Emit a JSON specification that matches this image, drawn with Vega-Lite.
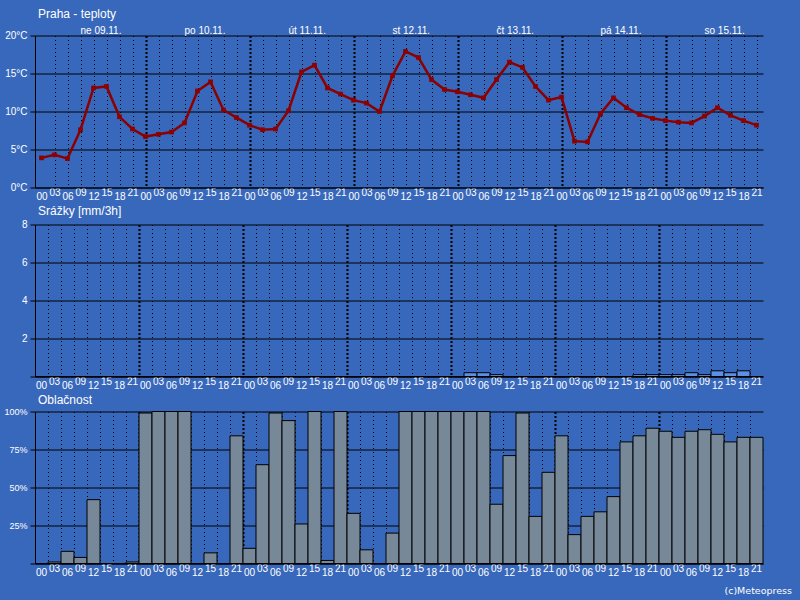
{
  "$schema": "https://vega.github.io/schema/vega-lite/v6.json",
  "background": "#3868bb",
  "padding": {"left": 3, "top": 7.5, "right": 8, "bottom": 5},
  "spacing": 3,
  "config": {
    "font": "Liberation Sans",
    "view": {"stroke": null},
    "axis": {"labelColor": "white", "labelFont": "Liberation Sans", "labelFontSize": 10, "domainColor": "black", "tickColor": "black", "gridColor": "black", "gridOpacity": 1, "title": null},
    "title": {"color": "white", "fontSize": 12, "fontWeight": "normal", "anchor": "start", "font": "Liberation Sans", "dx": 3, "frame": "group"}
  },
  "datasets": {
    "wx": [
      {"t": 0, "temp": 3.9, "precip": 0, "cloud": 0},
      {"t": 1, "temp": 4.3, "precip": 0, "cloud": 1},
      {"t": 2, "temp": 3.8, "precip": 0, "cloud": 8},
      {"t": 3, "temp": 7.6, "precip": 0, "cloud": 4},
      {"t": 4, "temp": 13.1, "precip": 0, "cloud": 42},
      {"t": 5, "temp": 13.3, "precip": 0, "cloud": 0},
      {"t": 6, "temp": 9.3, "precip": 0, "cloud": 0},
      {"t": 7, "temp": 7.7, "precip": 0, "cloud": 1},
      {"t": 8, "temp": 6.7, "precip": 0, "cloud": 99},
      {"t": 9, "temp": 7.0, "precip": 0, "cloud": 100},
      {"t": 10, "temp": 7.3, "precip": 0, "cloud": 100},
      {"t": 11, "temp": 8.5, "precip": 0, "cloud": 100},
      {"t": 12, "temp": 12.7, "precip": 0, "cloud": 0},
      {"t": 13, "temp": 13.9, "precip": 0, "cloud": 7},
      {"t": 14, "temp": 10.2, "precip": 0, "cloud": 0},
      {"t": 15, "temp": 9.2, "precip": 0, "cloud": 84},
      {"t": 16, "temp": 8.2, "precip": 0, "cloud": 10},
      {"t": 17, "temp": 7.6, "precip": 0, "cloud": 65},
      {"t": 18, "temp": 7.7, "precip": 0, "cloud": 99},
      {"t": 19, "temp": 10.1, "precip": 0, "cloud": 94},
      {"t": 20, "temp": 15.2, "precip": 0, "cloud": 26},
      {"t": 21, "temp": 16.1, "precip": 0, "cloud": 100},
      {"t": 22, "temp": 13.1, "precip": 0, "cloud": 2},
      {"t": 23, "temp": 12.3, "precip": 0, "cloud": 100},
      {"t": 24, "temp": 11.5, "precip": 0, "cloud": 33},
      {"t": 25, "temp": 11.1, "precip": 0, "cloud": 9},
      {"t": 26, "temp": 10.0, "precip": 0, "cloud": 0},
      {"t": 27, "temp": 14.7, "precip": 0, "cloud": 20},
      {"t": 28, "temp": 17.9, "precip": 0, "cloud": 100},
      {"t": 29, "temp": 17.1, "precip": 0, "cloud": 100},
      {"t": 30, "temp": 14.2, "precip": 0, "cloud": 100},
      {"t": 31, "temp": 12.9, "precip": 0, "cloud": 100},
      {"t": 32, "temp": 12.6, "precip": 0, "cloud": 100},
      {"t": 33, "temp": 12.2, "precip": 0.2, "cloud": 100},
      {"t": 34, "temp": 11.8, "precip": 0.2, "cloud": 100},
      {"t": 35, "temp": 14.2, "precip": 0.1, "cloud": 39},
      {"t": 36, "temp": 16.5, "precip": 0, "cloud": 71},
      {"t": 37, "temp": 15.8, "precip": 0, "cloud": 99},
      {"t": 38, "temp": 13.3, "precip": 0, "cloud": 31},
      {"t": 39, "temp": 11.5, "precip": 0, "cloud": 60},
      {"t": 40, "temp": 11.9, "precip": 0, "cloud": 84},
      {"t": 41, "temp": 6.1, "precip": 0, "cloud": 19},
      {"t": 42, "temp": 6.0, "precip": 0, "cloud": 31},
      {"t": 43, "temp": 9.7, "precip": 0, "cloud": 34},
      {"t": 44, "temp": 11.8, "precip": 0, "cloud": 44},
      {"t": 45, "temp": 10.5, "precip": 0, "cloud": 80},
      {"t": 46, "temp": 9.6, "precip": 0.1, "cloud": 84},
      {"t": 47, "temp": 9.1, "precip": 0.1, "cloud": 89},
      {"t": 48, "temp": 8.8, "precip": 0.1, "cloud": 87},
      {"t": 49, "temp": 8.6, "precip": 0.1, "cloud": 83},
      {"t": 50, "temp": 8.5, "precip": 0.2, "cloud": 87},
      {"t": 51, "temp": 9.4, "precip": 0.1, "cloud": 88},
      {"t": 52, "temp": 10.5, "precip": 0.3, "cloud": 85},
      {"t": 53, "temp": 9.5, "precip": 0.2, "cloud": 80},
      {"t": 54, "temp": 8.8, "precip": 0.3, "cloud": 83},
      {"t": 55, "temp": 8.2, "precip": 0, "cloud": 83}
    ],
    "days": [
      {"t": 3, "day": "ne 09.11."},
      {"t": 11, "day": "po 10.11."},
      {"t": 19, "day": "út 11.11."},
      {"t": 27, "day": "st 12.11."},
      {"t": 35, "day": "čt 13.11."},
      {"t": 43, "day": "pá 14.11."},
      {"t": 51, "day": "so 15.11."}
    ]
  },
  "title": {"text": "(c)Meteopress", "orient": "bottom", "anchor": "end", "fontSize": 9.5, "dx": 29, "offset": 9, "font": "DejaVu Sans", "frame": "group"},
  "vconcat": [
    {
      "width": 728,
      "height": 152,
      "title": {"text": "Praha - teploty", "offset": 4.5},
      "layer": [
        {
          "data": {"name": "wx"},
          "mark": {"type": "line", "color": "#8b0000", "strokeWidth": 2.5, "point": {"shape": "square", "size": 22, "filled": true, "color": "#8b0000"}},
          "encoding": {
            "x": {"field": "t", "type": "ordinal", "bandPosition": 0,
              "scale": {"paddingInner": 0, "paddingOuter": 0},
              "axis": {"bandPosition": 0, "grid": true, "ticks": false, "labelAngle": 0, "labelAlign": "center", "labelOverlap": false, "labelFlush": false,
                "labelExpr": "((datum.value % 8) * 3 < 10 ? '0' : '') + ((datum.value % 8) * 3)",
                "labelPadding": {"condition": {"test": "datum.value % 2 == 1", "value": 0}, "value": 3.5},
                "gridDash": {"condition": {"test": "datum.value % 8 == 0", "value": [2, 2]}, "value": [1, 3]},
                "gridWidth": {"condition": {"test": "datum.value % 8 == 0", "value": 2}, "value": 1},
                "gridOpacity": {"condition": {"test": "datum.value == 0", "value": 0}, "value": 1}}},
            "y": {"field": "temp", "type": "quantitative", "scale": {"domain": [0, 20], "nice": false},
              "axis": {"values": [0, 5, 10, 15, 20], "labelOverlap": false, "labelExpr": "datum.value + '°C'", "grid": true, "tickSize": 5, "labelPadding": 3}}
          }
        },
        {
          "data": {"name": "days"},
          "mark": {"type": "text", "align": "left", "baseline": "alphabetic", "dy": -2, "color": "white", "fontSize": 10},
          "encoding": {
            "x": {"field": "t", "type": "ordinal", "bandPosition": 0,
              "axis": {"bandPosition": 0, "grid": true, "ticks": false, "labelAngle": 0, "labelAlign": "center", "labelOverlap": false, "labelFlush": false,
                "labelExpr": "((datum.value % 8) * 3 < 10 ? '0' : '') + ((datum.value % 8) * 3)",
                "labelPadding": {"condition": {"test": "datum.value % 2 == 1", "value": 0}, "value": 3.5},
                "gridDash": {"condition": {"test": "datum.value % 8 == 0", "value": [2, 2]}, "value": [1, 3]},
                "gridWidth": {"condition": {"test": "datum.value % 8 == 0", "value": 2}, "value": 1},
                "gridOpacity": {"condition": {"test": "datum.value == 0", "value": 0}, "value": 1}}},
            "y": {"datum": 20, "type": "quantitative",
              "axis": {"values": [0, 5, 10, 15, 20], "labelOverlap": false, "labelExpr": "datum.value + '°C'", "grid": true, "tickSize": 5, "labelPadding": 3}},
            "text": {"field": "day"}
          }
        }
      ]
    },
    {
      "width": 728,
      "height": 152,
      "title": {"text": "Srážky [mm/3h]", "offset": 2},
      "data": {"name": "wx"},
      "mark": {"type": "bar", "fill": "#5b8fe8", "stroke": "black", "strokeWidth": 1},
      "encoding": {
        "x": {"field": "t", "type": "ordinal",
          "scale": {"paddingInner": 0, "paddingOuter": 0},
          "axis": {"bandPosition": 0, "grid": true, "ticks": false, "labelAngle": 0, "labelAlign": "center", "labelOverlap": false, "labelFlush": false,
            "labelExpr": "((datum.value % 8) * 3 < 10 ? '0' : '') + ((datum.value % 8) * 3)",
            "labelPadding": {"condition": {"test": "datum.value % 2 == 1", "value": 0}, "value": 3.5},
            "gridDash": {"condition": {"test": "datum.value % 8 == 0", "value": [2, 2]}, "value": [1, 3]},
            "gridWidth": {"condition": {"test": "datum.value % 8 == 0", "value": 2}, "value": 1},
            "gridOpacity": {"condition": {"test": "datum.value == 0", "value": 0}, "value": 1}}},
        "y": {"field": "precip", "type": "quantitative", "scale": {"domain": [0, 8], "nice": false},
          "axis": {"values": [0, 2, 4, 6, 8], "labelOverlap": false, "labelExpr": "datum.value == 0 ? '' : datum.value", "grid": true, "tickSize": 5, "labelPadding": 3}}
      }
    },
    {
      "width": 728,
      "height": 152,
      "title": {"text": "Oblačnost", "offset": 2, "dy": 1},
      "data": {"name": "wx"},
      "mark": {"type": "bar", "fill": "#778899", "stroke": "black", "strokeWidth": 1},
      "encoding": {
        "x": {"field": "t", "type": "ordinal",
          "scale": {"paddingInner": 0, "paddingOuter": 0},
          "axis": {"bandPosition": 0, "grid": true, "ticks": false, "labelAngle": 0, "labelAlign": "center", "labelOverlap": false, "labelFlush": false,
            "labelExpr": "((datum.value % 8) * 3 < 10 ? '0' : '') + ((datum.value % 8) * 3)",
            "labelPadding": {"condition": {"test": "datum.value % 2 == 1", "value": 0}, "value": 3.5},
            "gridDash": {"condition": {"test": "datum.value % 8 == 0", "value": [2, 2]}, "value": [1, 3]},
            "gridWidth": {"condition": {"test": "datum.value % 8 == 0", "value": 2}, "value": 1},
            "gridOpacity": {"condition": {"test": "datum.value == 0", "value": 0}, "value": 1}}},
        "y": {"field": "cloud", "type": "quantitative", "scale": {"domain": [0, 100], "nice": false},
          "axis": {"values": [0, 25, 50, 75, 100], "labelOverlap": false, "labelExpr": "datum.value == 0 ? '' : datum.value + '%'", "grid": true, "tickSize": 5, "labelPadding": 3, "labelFontSize": 9}}
      }
    }
  ]
}
